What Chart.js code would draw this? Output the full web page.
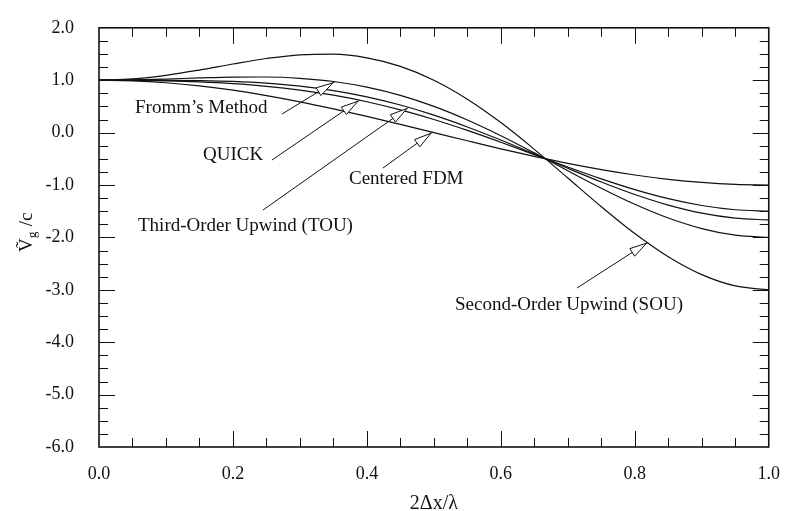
<!DOCTYPE html>
<html>
<head>
<meta charset="utf-8">
<script src="https://cdn.jsdelivr.net/npm/chart.js@4.4.1/dist/chart.umd.min.js"></script>
<style>
  html, body { margin: 0; padding: 0; background: #fff; }
</style>
</head>
<body>
<canvas id="chart" width="788" height="511"></canvas>
<script>
// 2dx/lambda sample points and the group velocity ratio
const xs = [0, 0.05, 0.1, 0.15, 0.2, 0.25, 0.3, 0.35, 0.4, 0.45, 0.5, 0.55, 0.6, 0.65, 0.7, 0.75, 0.8, 0.85, 0.9, 0.95, 1.0];
const centered = [1.000, 0.988, 0.951, 0.891, 0.809, 0.707, 0.588, 0.454, 0.309, 0.156, 0.000, -0.156, -0.309, -0.454, -0.588, -0.707, -0.809, -0.891, -0.951, -0.988, -1.000];
const quick = [1.000, 0.997, 0.987, 0.967, 0.934, 0.884, 0.812, 0.714, 0.589, 0.433, 0.250, 0.042, -0.184, -0.421, -0.657, -0.884, -1.089, -1.261, -1.391, -1.472, -1.500];
const tou = [1.000, 1.000, 0.998, 0.992, 0.976, 0.943, 0.887, 0.801, 0.682, 0.526, 0.333, 0.108, -0.142, -0.409, -0.681, -0.943, -1.182, -1.384, -1.538, -1.634, -1.667];
const fromm = [1.000, 1.006, 1.022, 1.043, 1.059, 1.061, 1.036, 0.975, 0.868, 0.710, 0.500, 0.241, -0.059, -0.387, -0.727, -1.061, -1.368, -1.630, -1.831, -1.957, -2.000];
const sou = [1.000, 1.024, 1.093, 1.194, 1.309, 1.414, 1.485, 1.496, 1.427, 1.264, 1.000, 0.638, 0.191, -0.320, -0.867, -1.414, -1.927, -2.370, -2.711, -2.926, -3.000];

const xTickValues = [0, 0.2, 0.4, 0.6, 0.8, 1.0];
const yTickValues = [2, 1, 0, -1, -2, -3, -4, -5, -6];
const xMinorStep = 0.05;
const yMinorStep = 0.25;

const serif = '"Liberation Serif", "Times New Roman", serif';
const ink = '#111';

// labels with arrows: text at (tx, ty) px, tail at px, tip in data units
const notes = [
  { text: "Fromm\u2019s Method", tx: 135, ty: 113, tail: [282, 114], tip: [0.352, 0.97] },
  { text: "QUICK", tx: 203, ty: 160, tail: [272, 160], tip: [0.389, 0.62] },
  { text: "Centered FDM", tx: 349, ty: 184, tail: [383, 168], tip: [0.498, 0.01] },
  { text: "Third-Order Upwind (TOU)", tx: 138, ty: 231, tail: [263, 210], tip: [0.462, 0.48] },
  { text: "Second-Order Upwind (SOU)", tx: 455, ty: 310, tail: [577, 288], tip: [0.82, -2.09] }
];

function pts(ys) {
  return xs.map((x, i) => ({ x, y: ys[i] }));
}

function curve(label, ys) {
  return {
    label,
    data: pts(ys),
    borderColor: ink,
    borderWidth: 1.2,
    pointRadius: 0,
    fill: false,
    cubicInterpolationMode: 'monotone'
  };
}

function drawArrow(ctx, x0, y0, x1, y1) {
  ctx.beginPath();
  ctx.moveTo(x0, y0);
  ctx.lineTo(x1, y1);
  ctx.stroke();
  const dx = x1 - x0, dy = y1 - y0;
  const len = Math.hypot(dx, dy);
  const ux = dx / len, uy = dy / len;
  const hx = x1 - ux * 2, hy = y1 - uy * 2;
  const bx = hx - ux * 17, by = hy - uy * 17;
  ctx.beginPath();
  ctx.moveTo(hx, hy);
  ctx.lineTo(bx - uy * 4.5, by + ux * 4.5);
  ctx.lineTo(bx + uy * 4.5, by - ux * 4.5);
  ctx.closePath();
  ctx.fillStyle = '#fff';
  ctx.fill();
  ctx.stroke();
}

const decor = {
  id: 'decor',
  afterDraw(chart) {
    const { ctx, chartArea: a, scales: { x, y } } = chart;
    ctx.save();
    ctx.strokeStyle = ink;
    ctx.lineWidth = 1;

    // inward ticks on all four sides
    ctx.beginPath();
    for (let i = 1; i < Math.round(1 / xMinorStep); i++) {
      const px = Math.round(x.getPixelForValue(i * xMinorStep)) + 0.5;
      const len = i % 4 === 0 ? 16 : 9;
      ctx.moveTo(px, a.bottom); ctx.lineTo(px, a.bottom - len);
      ctx.moveTo(px, a.top); ctx.lineTo(px, a.top + len);
    }
    for (let i = 1; i < Math.round(8 / yMinorStep); i++) {
      const py = Math.round(y.getPixelForValue(-6 + i * yMinorStep)) + 0.5;
      const len = i % 4 === 0 ? 16 : 9;
      ctx.moveTo(a.left, py); ctx.lineTo(a.left + len, py);
      ctx.moveTo(a.right, py); ctx.lineTo(a.right - len, py);
    }
    ctx.stroke();

    ctx.lineWidth = 1.6;
    ctx.strokeRect(a.left, a.top, a.right - a.left, a.bottom - a.top);

    // annotations
    ctx.lineWidth = 1;
    ctx.font = '19px ' + serif;
    ctx.textAlign = 'left';
    ctx.textBaseline = 'alphabetic';
    notes.forEach(n => {
      ctx.fillStyle = ink;
      ctx.fillText(n.text, n.tx, n.ty);
      drawArrow(ctx, n.tail[0], n.tail[1], x.getPixelForValue(n.tip[0]), y.getPixelForValue(n.tip[1]));
    });

    // axis titles
    ctx.fillStyle = ink;
    ctx.textAlign = 'center';
    ctx.font = '20px ' + serif;
    ctx.fillText('2\u0394x/\u03BB', (a.left + a.right) / 2, 509);

    ctx.save();
    ctx.rotate(-Math.PI / 2);
    ctx.textAlign = 'left';
    ctx.font = '19px ' + serif;
    ctx.fillText('\u1E7C', -252, 32);
    ctx.font = '13px ' + serif;
    ctx.fillText('g', -238, 36);
    ctx.font = '19px ' + serif;
    ctx.fillText(' /c', -231, 32);
    ctx.restore();

    ctx.restore();
  }
};

new Chart(document.getElementById('chart'), {
  type: 'line',
  data: {
    datasets: [
      curve('SOU', sou),
      curve('Fromm', fromm),
      curve('TOU', tou),
      curve('QUICK', quick),
      curve('Centered', centered)
    ]
  },
  options: {
    responsive: false,
    animation: false,
    layout: { padding: { top: 16, right: 12, left: 0, bottom: 0 } },
    plugins: { legend: { display: false }, tooltip: { enabled: false } },
    scales: {
      x: {
        type: 'linear',
        min: 0,
        max: 1,
        afterBuildTicks: s => { s.ticks = xTickValues.map(v => ({ value: v })); },
        afterFit: s => { s.height = 64; },
        grid: { display: false },
        border: { display: false },
        ticks: {
          padding: 8,
          color: ink,
          font: { family: serif, size: 18 },
          callback: v => v.toFixed(1)
        }
      },
      y: {
        type: 'linear',
        min: -6,
        max: 2,
        afterBuildTicks: s => { s.ticks = yTickValues.map(v => ({ value: v })); },
        afterFit: s => { s.width = 99; },
        grid: { display: false },
        border: { display: false },
        ticks: {
          padding: 17,
          color: ink,
          font: { family: serif, size: 18 },
          callback: v => v.toFixed(1)
        }
      }
    }
  },
  plugins: [decor]
});
</script>
</body>
</html>
